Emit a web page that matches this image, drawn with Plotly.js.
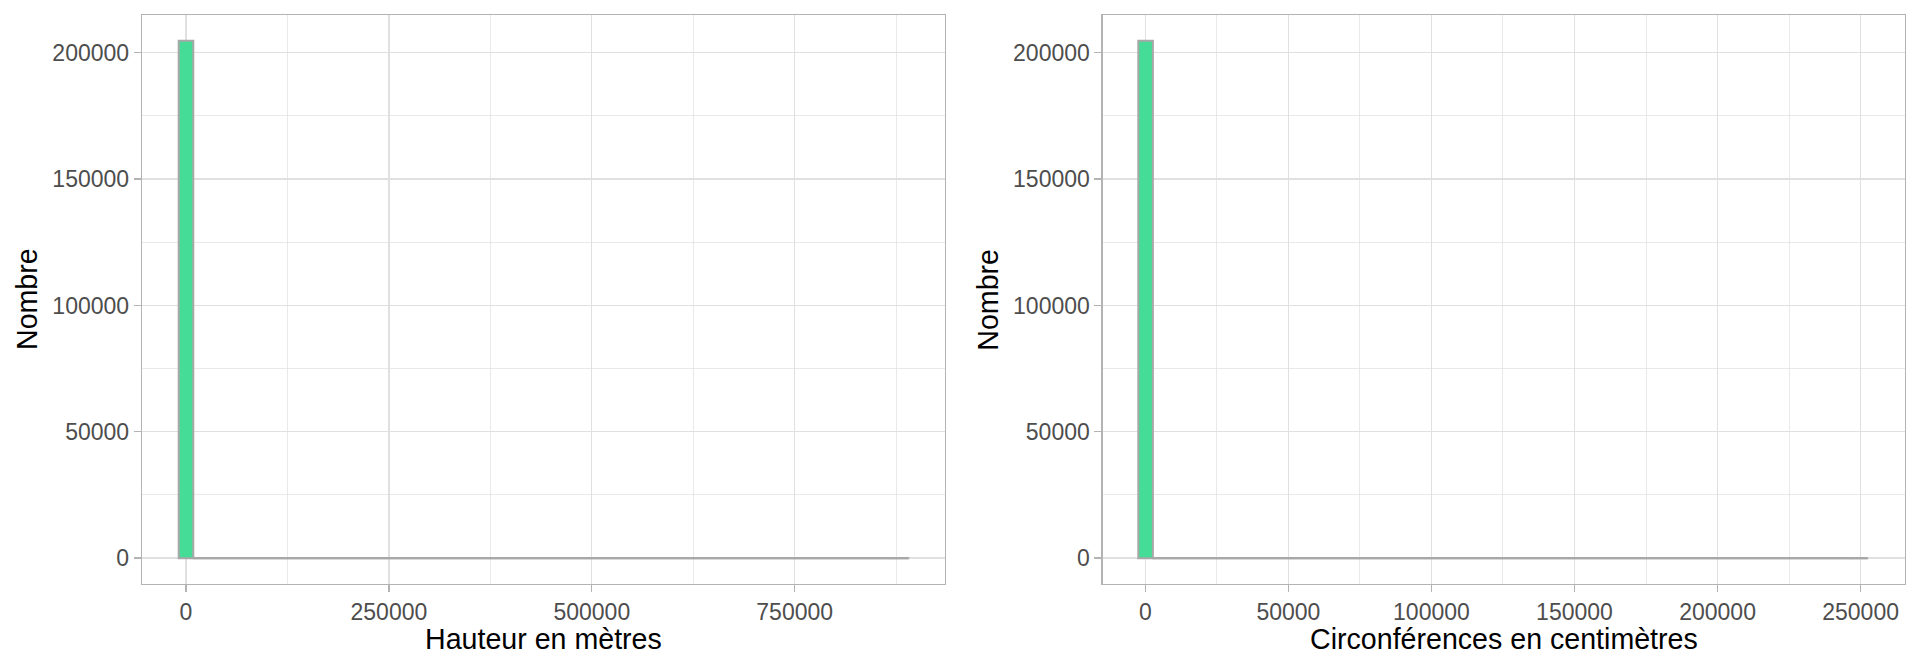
<!DOCTYPE html>
<html>
<head>
<meta charset="utf-8">
<script src="https://cdn.plot.ly/plotly-3.0.1.min.js"></script>
<style>
html,body{margin:0;padding:0;background:#fff;}
#chart{width:1920px;height:672px;}
</style>
</head>
<body>
<div id="chart"></div>
<script>
// ---- Data (50 bins each) ----
// Left panel: heights in metres
var hauteurBinStart = -8989;      // left edge of first bin
var hauteurBinWidth = 17978;      // bin width
var hauteurCounts = [
  204700,0,0,0,0,0,0,0,0,0,
  0,0,0,0,0,0,0,0,0,0,
  0,0,0,0,0,0,0,0,0,0,
  0,0,0,0,0,0,0,0,0,0,
  0,0,0,0,0,0,0,0,0,1
];
// Right panel: circumferences in centimetres
var circBinStart = -2450;
var circBinWidth = 5095;
var circCounts = [
  204700,0,0,0,0,0,0,0,0,0,
  0,0,0,0,0,0,0,0,0,0,
  0,0,0,0,0,0,0,0,0,0,
  0,0,0,0,0,0,0,0,0,0,
  0,0,0,0,0,0,0,0,0,1
];
var hauteurTicks = [0, 250000, 500000, 750000];
var circTicks = [0, 50000, 100000, 150000, 200000, 250000];
var countTicks = [0, 50000, 100000, 150000, 200000];
var xTitleLeft = "Hauteur en mètres";
var xTitleRight = "Circonférences en centimètres";
var yTitle = "Nombre";

// ---- Styles ----
var FILL = "#44DC96";
var OUTLINE = "#A8A8A8";
var GRID = "#E0E0E0";
var BORDER = "#B3B3B3";
var FONT = "Liberation Sans, Arial, Helvetica, sans-serif";

function centers(start, w, n){
  var c = [];
  for (var i = 0; i < n; i++) c.push(start + (i + 0.5) * w);
  return c;
}
function edges(start, w, n){
  var e = [];
  for (var i = 0; i <= n; i++) e.push(start + i * w);
  return e;
}
// minor grid positions: halfway between major ticks, plus one step beyond each end
function minorVals(t){
  var s = t[1] - t[0], m = [t[0] - s/2];
  for (var i = 0; i < t.length; i++) m.push(t[i] + s/2);
  return m;
}

function histTraces(start, w, counts, xa, ya){
  var n = counts.length;
  var e = edges(start, w, n);
  return [
    {
      type: "bar",
      x: centers(start, w, n),
      y: counts,
      width: w,
      xaxis: xa, yaxis: ya,
      marker: {color: FILL, line: {color: OUTLINE, width: 2}},
      hoverinfo: "x+y",
      showlegend: false
    },
    {
      // outline of the empty (zero-height) bins along the baseline
      type: "scatter", mode: "lines",
      x: [e[1], e[n]],
      y: [0, 0],
      xaxis: xa, yaxis: ya,
      line: {color: OUTLINE, width: 2.2},
      hoverinfo: "skip",
      showlegend: false
    }
  ];
}

var data = [].concat(
  histTraces(hauteurBinStart, hauteurBinWidth, hauteurCounts, "x", "y"),
  histTraces(circBinStart, circBinWidth, circCounts, "x2", "y2")
);

var W = 1920, H = 672;
var yDom = [1 - 584/H, 1 - 15/H];

function commonAxis(ticks){
  return {
    tickmode: "array", tickvals: ticks, ticktext: ticks.map(String),
    ticks: "outside", ticklen: 7, tickwidth: 1.3, tickcolor: BORDER,
    tickfont: {family: FONT, size: 23, color: "#4D4D4D"},
    showgrid: true, gridcolor: GRID, gridwidth: 1.3,
    minor: {showgrid: true, gridcolor: GRID, gridwidth: 0.7, ticks: "",
            tickmode: "array", tickvals: minorVals(ticks)},
    zeroline: false,
    showline: true, mirror: true, linecolor: BORDER, linewidth: 1.3,
    fixedrange: true
  };
}
function xAxis(dom, range, ticks, anchor){
  return Object.assign(commonAxis(ticks), {domain: dom, range: range, anchor: anchor});
}
function yAxis(anchor){
  return Object.assign(commonAxis(countTicks), {domain: yDom, range: [-10235, 214935], anchor: anchor});
}

var x1Dom = [142/W, 944.5/W];
var x2Dom = [1102.7/W, 1904.5/W];
var titleFont = {family: FONT, size: 28.6, color: "#000"};

var layout = {
  width: W, height: H,
  margin: {l: 0, r: 0, t: 0, b: 0},
  paper_bgcolor: "#ffffff",
  plot_bgcolor: "#ffffff",
  showlegend: false,
  font: {family: FONT},
  xaxis: xAxis(x1Dom, [-54214, 934570], hauteurTicks, "y"),
  yaxis: yAxis("x"),
  xaxis2: xAxis(x2Dom, [-14890, 265340], circTicks, "y2"),
  yaxis2: yAxis("x2"),
  annotations: [
    {text: xTitleLeft, xref: "paper", yref: "paper", x: (x1Dom[0]+x1Dom[1])/2, y: 1 - 639/H,
     xanchor: "center", yanchor: "middle", showarrow: false, font: titleFont},
    {text: xTitleRight, xref: "paper", yref: "paper", x: (x2Dom[0]+x2Dom[1])/2, y: 1 - 639/H,
     xanchor: "center", yanchor: "middle", showarrow: false, font: titleFont},
    {text: yTitle, xref: "paper", yref: "paper", x: 26.5/W, y: (yDom[0]+yDom[1])/2, textangle: -90,
     xanchor: "center", yanchor: "middle", showarrow: false, font: titleFont},
    {text: yTitle, xref: "paper", yref: "paper", x: 987.2/W, y: (yDom[0]+yDom[1])/2, textangle: -90,
     xanchor: "center", yanchor: "middle", showarrow: false, font: titleFont}
  ]
};

Plotly.newPlot("chart", data, layout, {displayModeBar: false, staticPlot: true});
</script>
</body>
</html>
